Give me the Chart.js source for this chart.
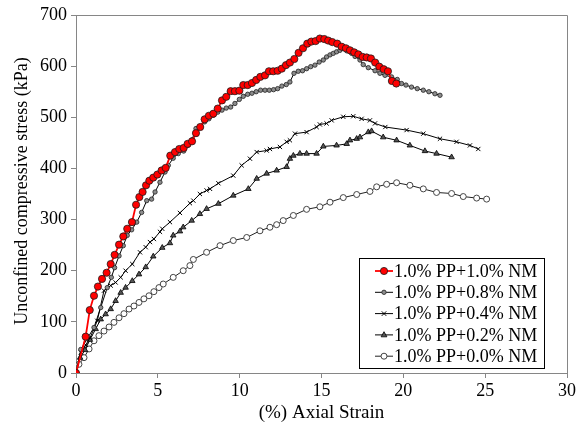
<!DOCTYPE html>
<html>
<head>
<meta charset="utf-8">
<script src="https://cdn.jsdelivr.net/npm/chart.js@4/dist/chart.umd.min.js"></script>
<style>
  body { margin: 0; background: #fff; }
</style>
</head>
<body>
<canvas id="chart1" width="583" height="427"></canvas>
<script>
// values
const seriesLabels = ['1.0% PP+1.0% NM', '1.0% PP+0.8% NM', '1.0% PP+0.4% NM', '1.0% PP+0.2% NM', '1.0% PP+0.0% NM'];

const strainNM10 = [0, 0.59, 0.84, 1.1, 1.34, 1.59, 1.87, 2.12, 2.36, 2.63, 2.89, 3.13, 3.42, 3.67, 3.87, 4.07, 4.28, 4.48, 4.72, 4.97,
  5.23, 5.48, 5.76, 6.05, 6.31, 6.58, 6.82, 7.09, 7.33, 7.59, 7.86, 8.12, 8.39, 8.66, 8.92, 9.18, 9.45, 9.71, 9.98, 10.22,
  10.49, 10.75, 11.01, 11.26, 11.55, 11.79, 12.05, 12.32, 12.57, 12.83, 13.07, 13.34, 13.6, 13.87, 14.13, 14.38, 14.64, 14.9, 15.17, 15.41,
  15.66, 15.96, 16.23, 16.49, 16.74, 17.0, 17.25, 17.51, 17.76, 18.02, 18.28, 18.53, 18.8, 19.06, 19.3, 19.57];
const stressNM10 = [0, 71, 123, 151, 169, 184, 196, 213, 231, 251, 267, 282, 295, 329, 344, 354, 367, 376, 382, 388,
  396, 401, 425, 432, 438, 440, 448, 453, 469, 481, 496, 503, 507, 517, 533, 540, 551, 551, 552, 563,
  563, 567, 573, 579, 582, 590, 590, 591, 595, 602, 607, 614, 626, 635, 644, 648, 649, 654, 653, 650,
  647, 644, 638, 635, 631, 627, 623, 618, 617, 615, 607, 599, 594, 590, 571, 566];

const strainNM08 = [0, 0.29, 1.1, 1.51, 1.91, 2.16, 2.36, 2.63, 2.89, 3.13, 3.4, 3.71, 4.01, 4.32, 4.62, 4.83, 5.13, 5.44, 5.64,
  5.94, 6.25, 6.58, 6.84, 7.09, 7.33, 7.59, 7.86, 8.12, 8.39, 8.66, 8.92, 9.18, 9.45, 9.71, 9.98, 10.22, 10.49, 10.75, 11.01,
  11.28, 11.55, 11.81, 12.07, 12.32, 12.58, 12.85, 13.07, 13.32, 13.58, 13.84, 14.09, 14.34, 14.6, 14.86, 15.11, 15.31, 15.52, 15.72, 15.92,
  16.13, 16.29, 16.54, 16.84, 17.05, 17.35, 17.55, 17.86, 18.27, 18.57, 18.88, 19.28, 19.63, 19.89, 20.16, 20.5, 20.85, 21.22, 21.56, 21.93, 22.24];
const stressNM08 = [0, 46, 89, 128, 167, 187, 206, 229, 249, 269, 280, 295, 314, 337, 340, 354, 373, 393, 406,
  420, 429, 434, 445, 456, 478, 481, 491, 497, 504, 510, 514, 518, 520, 527, 535, 541, 545, 547, 550,
  553, 553, 553, 554, 556, 561, 564, 569, 586, 590, 591, 595, 599, 602, 608, 612, 618, 622, 625, 628,
  631, 635, 630, 625, 619, 612, 603, 597, 591, 586, 582, 579, 574, 566, 563, 559, 556, 553, 550, 546, 543];

const strainNM04 = [0, 0.3, 0.6, 0.86, 1.3, 1.71, 2.12, 2.42, 2.73, 3.03, 3.44, 3.91, 4.26, 4.52, 4.76, 5.13, 5.27, 5.74, 6.35, 6.96,
  7.17, 7.57, 7.98, 8.19, 8.7, 9.61, 10.12, 10.63, 11.04, 11.65, 11.85, 12.46, 12.87, 13.07, 13.38, 14.09, 14.7, 14.9, 15.31, 15.62,
  16.33, 16.94, 17.45, 17.96, 18.27, 18.9, 20.2, 21.22, 22.24, 23.25, 24.07, 24.58];
const stressNM04 = [0, 40, 55, 69, 102, 161, 171, 177, 187, 200, 213, 236, 246, 256, 262, 276, 282, 295, 313, 332,
  337, 350, 357, 360, 371, 386, 406, 419, 432, 435, 438, 442, 452, 455, 468, 471, 481, 486, 488, 494,
  501, 502, 497, 494, 488, 481, 475, 468, 458, 452, 445, 438];

const strainNM02 = [0, 0.25, 0.55, 0.85, 1.2, 1.51, 1.81, 2.12, 2.42, 2.73, 3.03, 3.44, 3.85, 4.26, 4.72, 5.27, 5.74, 5.94, 6.35, 6.55,
  7.07, 7.57, 7.98, 8.7, 9.61, 10.53, 11.04, 11.65, 12.26, 12.87, 13.07, 13.28, 13.68, 14.09, 14.7, 15.11, 15.92, 16.54, 16.74, 17.15,
  17.35, 17.86, 18.06, 18.77, 19.59, 20.4, 21.32, 22.03, 22.95];
const stressNM02 = [0, 30, 45, 65, 86, 105, 115, 125, 141, 157, 167, 180, 193, 207, 228, 245, 254, 269, 277, 285,
  298, 311, 321, 331, 347, 360, 380, 390, 396, 403, 419, 425, 429, 429, 429, 443, 445, 448, 455, 458,
  461, 471, 473, 461, 455, 445, 434, 429, 422];

const strainNM00 = [0, 0.18, 0.49, 0.8, 1.1, 1.4, 1.71, 2.02, 2.32, 2.63, 2.93, 3.24, 3.54, 3.85, 4.15, 4.46, 4.76, 5.07, 5.33, 5.94,
  6.55, 6.96, 7.17, 7.98, 8.8, 9.61, 10.43, 11.24, 11.85, 12.26, 12.66, 13.28, 14.09, 14.9, 15.52, 16.33, 17.15, 17.96, 18.37, 18.98,
  19.59, 20.4, 21.22, 22.03, 22.95, 23.66, 24.48, 25.09];
const stressNM00 = [0, 17, 30, 47, 63, 73, 82, 90, 99, 108, 116, 125, 131, 138, 145, 151, 159, 167, 174, 187,
  200, 210, 222, 236, 249, 259, 265, 278, 285, 290, 298, 308, 320, 325, 334, 343, 349, 355, 364, 369,
  372, 367, 360, 353, 351, 345, 342, 340];

const xTicks = [0, 5, 10, 15, 20, 25, 30];
const yTicks = [0, 100, 200, 300, 400, 500, 600, 700];
const yTitle = 'Unconfined compressive stress (kPa)';

function pts(xs, ys) {
    return xs.map((x, i) => ({ x: x, y: ys[i] }));
}

const FONT = "'Liberation Serif', 'Times New Roman', serif";
const AXIS_GRAY = '#868686';

function drawMarker(ctx, style, r, x, y) {
    ctx.beginPath();
    if (style === 'circle') {
        ctx.arc(x, y, r, 0, Math.PI * 2);
        ctx.fill();
        ctx.stroke();
    } else if (style === 'triangle') {
        ctx.moveTo(x, y - r);
        ctx.lineTo(x + r * 0.9, y + r * 0.6);
        ctx.lineTo(x - r * 0.9, y + r * 0.6);
        ctx.closePath();
        ctx.fill();
        ctx.stroke();
    } else {
        const d = r * 0.75;
        ctx.moveTo(x - d, y - d); ctx.lineTo(x + d, y + d);
        ctx.moveTo(x + d, y - d); ctx.lineTo(x - d, y + d);
        ctx.stroke();
    }
}

// frame on top/right of plot area, y title, legend box inside the plot
const framePlugin = {
    id: 'frameAndLegend',
    afterDatasetsDraw(chart) {
        const ctx = chart.ctx;
        const a = chart.chartArea;
        ctx.save();
        ctx.strokeStyle = AXIS_GRAY;
        ctx.lineWidth = 1;
        ctx.beginPath();
        ctx.moveTo(a.left, a.top + 0.5);
        ctx.lineTo(a.right + 0.5, a.top + 0.5);
        ctx.lineTo(a.right + 0.5, a.bottom);
        ctx.stroke();

        // y axis title
        ctx.save();
        ctx.translate(22, 191);
        ctx.rotate(-Math.PI / 2);
        ctx.font = '18px ' + FONT;
        ctx.fillStyle = '#000';
        ctx.textAlign = 'center';
        ctx.textBaseline = 'middle';
        ctx.fillText(yTitle, 0, 0);
        ctx.restore();

        // legend
        const bx = 359.5, by = 258.5, bw = 185, bh = 110;
        ctx.fillStyle = '#fff';
        ctx.fillRect(bx, by, bw, bh);
        ctx.strokeStyle = '#000';
        ctx.strokeRect(bx, by, bw, bh);
        ctx.font = '18px ' + FONT;
        ctx.textBaseline = 'middle';
        ctx.textAlign = 'left';
        chart.data.datasets.forEach((ds, i) => {
            const cy = 271 + i * 21.3;
            ctx.strokeStyle = ds.borderColor;
            ctx.lineWidth = ds.borderWidth;
            ctx.beginPath();
            ctx.moveTo(375, cy);
            ctx.lineTo(393, cy);
            ctx.stroke();
            ctx.fillStyle = ds.pointBackgroundColor;
            ctx.strokeStyle = ds.pointBorderColor;
            ctx.lineWidth = ds.pointBorderWidth;
            drawMarker(ctx, ds.pointStyle, ds.pointRadius, 384, cy);
            ctx.fillStyle = '#000';
            ctx.fillText(ds.label, 394, cy + 1);
        });
        ctx.restore();
    }
};

const datasets = [
    {
        label: seriesLabels[0],
        data: pts(strainNM10, stressNM10),
        borderColor: '#ff0000',
        borderWidth: 1.8,
        pointStyle: 'circle',
        pointRadius: 3.6,
        pointBackgroundColor: '#ff0000',
        pointBorderColor: '#1a1a1a',
        pointBorderWidth: 0.8
    },
    {
        label: seriesLabels[1],
        data: pts(strainNM08, stressNM08),
        borderColor: '#000000',
        borderWidth: 1,
        pointStyle: 'circle',
        pointRadius: 2.2,
        pointBackgroundColor: '#8c8c8c',
        pointBorderColor: '#222222',
        pointBorderWidth: 0.8
    },
    {
        label: seriesLabels[2],
        data: pts(strainNM04, stressNM04),
        borderColor: '#000000',
        borderWidth: 1,
        pointStyle: 'crossRot',
        pointRadius: 3,
        pointBackgroundColor: '#000000',
        pointBorderColor: '#000000',
        pointBorderWidth: 1
    },
    {
        label: seriesLabels[3],
        data: pts(strainNM02, stressNM02),
        borderColor: '#000000',
        borderWidth: 1,
        pointStyle: 'triangle',
        pointRadius: 3.2,
        pointBackgroundColor: '#555555',
        pointBorderColor: '#000000',
        pointBorderWidth: 0.8
    },
    {
        label: seriesLabels[4],
        data: pts(strainNM00, stressNM00),
        borderColor: '#222222',
        borderWidth: 1,
        pointStyle: 'circle',
        pointRadius: 3,
        pointBackgroundColor: '#ffffff',
        pointBorderColor: '#444444',
        pointBorderWidth: 1
    }
];

const config = {
    type: 'line',
    data: { datasets: datasets },
    options: {
        responsive: false,
        animation: false,
        layout: { padding: { left: 0, right: 16, top: 15, bottom: 0 } },
        plugins: {
            legend: { display: false },
            tooltip: { enabled: false }
        },
        elements: { line: { tension: 0 } },
        scales: {
            x: {
                type: 'linear',
                min: 0,
                max: 30,
                afterBuildTicks: (scale) => { scale.ticks = xTicks.map(v => ({ value: v })); },
                afterFit: (scale) => { scale.height = 54; },
                grid: { drawOnChartArea: false, drawTicks: true, tickLength: 5, color: AXIS_GRAY },
                border: { color: AXIS_GRAY, width: 1 },
                ticks: { color: '#000', font: { family: FONT, size: 18 }, padding: 2, maxRotation: 0 },
                title: { display: true, text: '(%) Axial Strain', color: '#000', font: { family: FONT, size: 19 }, padding: { top: 0, bottom: 3 } }
            },
            y: {
                type: 'linear',
                min: 0,
                max: 700,
                afterBuildTicks: (scale) => { scale.ticks = yTicks.map(v => ({ value: v })); },
                afterFit: (scale) => { scale.width = 76; },
                grid: { drawOnChartArea: false, drawTicks: true, tickLength: 5, color: AXIS_GRAY },
                border: { color: AXIS_GRAY, width: 1 },
                ticks: { color: '#000', font: { family: FONT, size: 18 }, padding: 4 }
            }
        }
    },
    plugins: [framePlugin]
};

const myChart = new Chart(document.getElementById('chart1'), config);
</script>
</body>
</html>
